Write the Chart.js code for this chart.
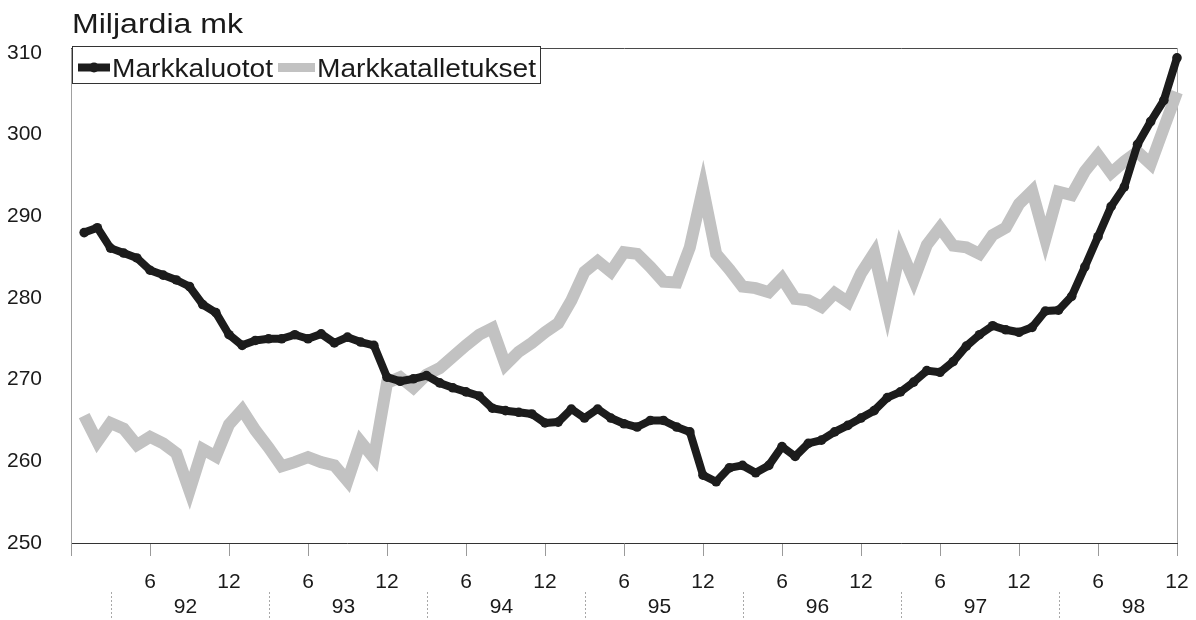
<!DOCTYPE html>
<html>
<head>
<meta charset="utf-8">
<script src="https://cdn.jsdelivr.net/npm/chart.js@4.4.1/dist/chart.umd.min.js"></script>
<style>
  html, body { margin: 0; padding: 0; background: #ffffff; }
  #wrap { width: 1196px; height: 620px; position: relative; }
</style>
</head>
<body>
<div id="wrap"><canvas id="c" width="1196" height="620"></canvas></div>
<script>
// ---- chart data ----
const titleText = 'Miljardia mk';
const seriesNames = ['Markkaluotot', 'Markkatalletukset'];
const years = ['92', '93', '94', '95', '96', '97', '98'];
const xTickLabels = ['', '6', '12', '6', '12', '6', '12', '6', '12', '6', '12', '6', '12', '6', '12'];
const yTickValues = [250, 260, 270, 280, 290, 300, 310];

const markkaluotot = [
  288.0, 288.6, 286.1, 285.5, 284.9, 283.4, 282.8, 282.2, 281.4, 279.2,
  278.2, 275.5, 274.2, 274.8, 275.0, 275.0, 275.5, 275.0, 275.6, 274.5,
  275.2, 274.6, 274.2, 270.3, 269.8, 270.1, 270.5, 269.6, 269.0, 268.5,
  268.0, 266.5, 266.2, 266.0, 265.8, 264.7, 264.8, 266.4, 265.3, 266.4,
  265.3, 264.6, 264.2, 265.0, 265.0, 264.2, 263.6, 258.3, 257.5, 259.2,
  259.5, 258.6, 259.5, 261.8, 260.6, 262.2, 262.6, 263.6, 264.4, 265.3,
  266.2, 267.8, 268.5, 269.7, 271.1, 270.9, 272.2, 274.1, 275.5, 276.6,
  276.1, 275.8, 276.4, 278.4, 278.5, 280.2, 283.8, 287.5, 291.2, 293.6,
  298.8, 301.6, 304.2, 309.4
];

const markkatalletukset = [
  265.6, 262.4, 264.7, 264.0, 262.0, 263.0, 262.2, 261.0, 256.4, 261.5,
  260.6, 264.5, 266.3, 263.8, 261.7, 259.4, 259.9, 260.5, 259.9, 259.5,
  257.6, 262.4, 260.4, 269.6, 270.3, 269.0, 270.6, 271.4, 272.8, 274.2,
  275.5, 276.3, 271.8, 273.4, 274.5, 275.8, 276.9, 279.7, 283.2, 284.5,
  283.2, 285.6, 285.4, 283.8, 282.0, 281.9, 286.2, 293.4, 285.4, 283.5,
  281.4, 281.2, 280.7, 282.4, 279.9, 279.7, 278.9, 280.6, 279.5, 283.0,
  285.5, 278.5, 286.0, 282.2, 286.5, 288.6, 286.4, 286.2, 285.4, 287.7,
  288.6, 291.5, 293.1, 287.2, 293.0, 292.6, 295.5, 297.5, 295.3, 296.7,
  297.9, 296.4, 300.8, 305.2
];

// month index 1..84 (Jan 92 .. Dec 98)
const months = markkaluotot.map((_, i) => i + 1);

// ---- styles ----
const FONT = '"Liberation Sans", Arial, Helvetica, sans-serif';
const BLACK = '#1c1c1c';
const GRAY = '#c2c2c2';

function stretchText(ctx, text, x, y, size, width, color) {
  ctx.save();
  ctx.font = size + 'px ' + FONT;
  ctx.fillStyle = color;
  ctx.textAlign = 'left';
  ctx.textBaseline = 'alphabetic';
  const w = ctx.measureText(text).width;
  ctx.translate(x, y);
  ctx.scale(width / w, 1);
  ctx.fillText(text, 0, 0);
  ctx.restore();
}

const decor = {
  id: 'decor',
  beforeDatasetsDraw(chart) {
    const { ctx, chartArea: a } = chart;
    ctx.save();
    ctx.lineWidth = 1;
    ctx.strokeStyle = '#4a4a4a';
    ctx.beginPath();
    ctx.moveTo(a.left, a.top + 0.5);
    ctx.lineTo(a.right + 1, a.top + 0.5);
    ctx.stroke();
    ctx.strokeStyle = '#a8a8a8';
    ctx.beginPath();
    ctx.moveTo(a.right + 0.5, a.top);
    ctx.lineTo(a.right + 0.5, a.bottom);
    ctx.stroke();
    ctx.restore();
  },
  afterDraw(chart) {
    const { ctx, chartArea: a, scales: { x } } = chart;
    ctx.save();
    // title
    stretchText(ctx, titleText, a.left + 1, 33, 27, 171, '#1a1a1a');

    // year labels and separators
    ctx.font = '21px ' + FONT;
    ctx.fillStyle = '#1a1a1a';
    ctx.textAlign = 'center';
    ctx.textBaseline = 'middle';
    years.forEach((yr, k) => {
      ctx.fillText(yr, x.getPixelForValue(12 * k + 8.7), 607);
    });
    ctx.strokeStyle = '#a8a8a8';
    ctx.lineWidth = 1;
    ctx.setLineDash([2, 2]);
    years.forEach((yr, k) => {
      const px = Math.round(x.getPixelForValue(12 * k + 3)) + 0.5;
      ctx.beginPath();
      ctx.moveTo(px, 592);
      ctx.lineTo(px, 620);
      ctx.stroke();
    });
    ctx.setLineDash([]);

    // legend box
    const lx = 72, ly = 46, lw = 468, lh = 37;
    ctx.fillStyle = '#ffffff';
    ctx.fillRect(lx, ly, lw, lh);
    ctx.strokeStyle = '#333333';
    ctx.lineWidth = 1;
    ctx.strokeRect(lx + 0.5, ly + 0.5, lw, lh);

    const cy = 67.5;
    // black sample
    ctx.strokeStyle = BLACK;
    ctx.lineWidth = 8;
    ctx.lineCap = 'butt';
    ctx.beginPath();
    ctx.moveTo(78, cy);
    ctx.lineTo(110, cy);
    ctx.stroke();
    ctx.fillStyle = BLACK;
    ctx.beginPath();
    ctx.arc(94, cy, 5, 0, Math.PI * 2);
    ctx.fill();
    stretchText(ctx, seriesNames[0], 112, 77, 26, 161, '#1a1a1a');

    // gray sample
    ctx.strokeStyle = GRAY;
    ctx.lineWidth = 9;
    ctx.beginPath();
    ctx.moveTo(278, cy);
    ctx.lineTo(315, cy);
    ctx.stroke();
    stretchText(ctx, seriesNames[1], 317, 77, 26, 219, '#1a1a1a');

    ctx.restore();
  }
};

new Chart(document.getElementById('c'), {
  type: 'line',
  data: {
    datasets: [
      {
        label: seriesNames[0],
        data: months.map((m, i) => ({ x: m, y: markkaluotot[i] })),
        borderColor: BLACK,
        backgroundColor: BLACK,
        borderWidth: 8,
        pointRadius: 4.8,
        pointBorderWidth: 0,
        pointBackgroundColor: BLACK,
        borderJoinStyle: 'round',
        borderCapStyle: 'round',
        tension: 0,
        clip: false,
        order: 0
      },
      {
        label: seriesNames[1],
        data: months.map((m, i) => ({ x: m, y: markkatalletukset[i] })),
        borderColor: GRAY,
        backgroundColor: GRAY,
        borderWidth: 12,
        pointRadius: 0,
        borderJoinStyle: 'miter',
        tension: 0,
        clip: false,
        order: 1
      }
    ]
  },
  options: {
    responsive: false,
    animation: false,
    devicePixelRatio: 1,
    layout: { padding: { top: 48, right: 19, left: 0, bottom: 0 } },
    plugins: {
      legend: { display: false },
      title: { display: false },
      tooltip: { enabled: false }
    },
    scales: {
      x: {
        type: 'linear',
        min: 0,
        max: 84,
        afterBuildTicks: s => { s.ticks = xTickLabels.map((_, i) => ({ value: i * 6 })); },
        afterFit: s => { s.height = 77; s.paddingRight = 0; s.paddingLeft = 0; },
        grid: { display: true, drawOnChartArea: false, drawTicks: true, tickLength: 13, color: '#9a9a9a', lineWidth: 1 },
        border: { display: true, color: '#333333', width: 1 },
        ticks: {
          autoSkip: false,
          maxRotation: 0,
          padding: 14,
          color: '#1a1a1a',
          font: { family: FONT, size: 21 },
          callback: (v, i) => xTickLabels[i]
        }
      },
      y: {
        min: 250,
        max: 310.6,
        afterBuildTicks: s => { s.ticks = yTickValues.map(v => ({ value: v })); },
        afterFit: s => { s.width = 71; s.paddingTop = 0; s.paddingBottom = 0; },
        grid: { display: false },
        border: { display: true, color: '#a0a0a0', width: 1 },
        ticks: {
          padding: 21,
          color: '#1a1a1a',
          font: { family: FONT, size: 21 }
        }
      }
    }
  },
  plugins: [decor]
});
</script>
</body>
</html>
